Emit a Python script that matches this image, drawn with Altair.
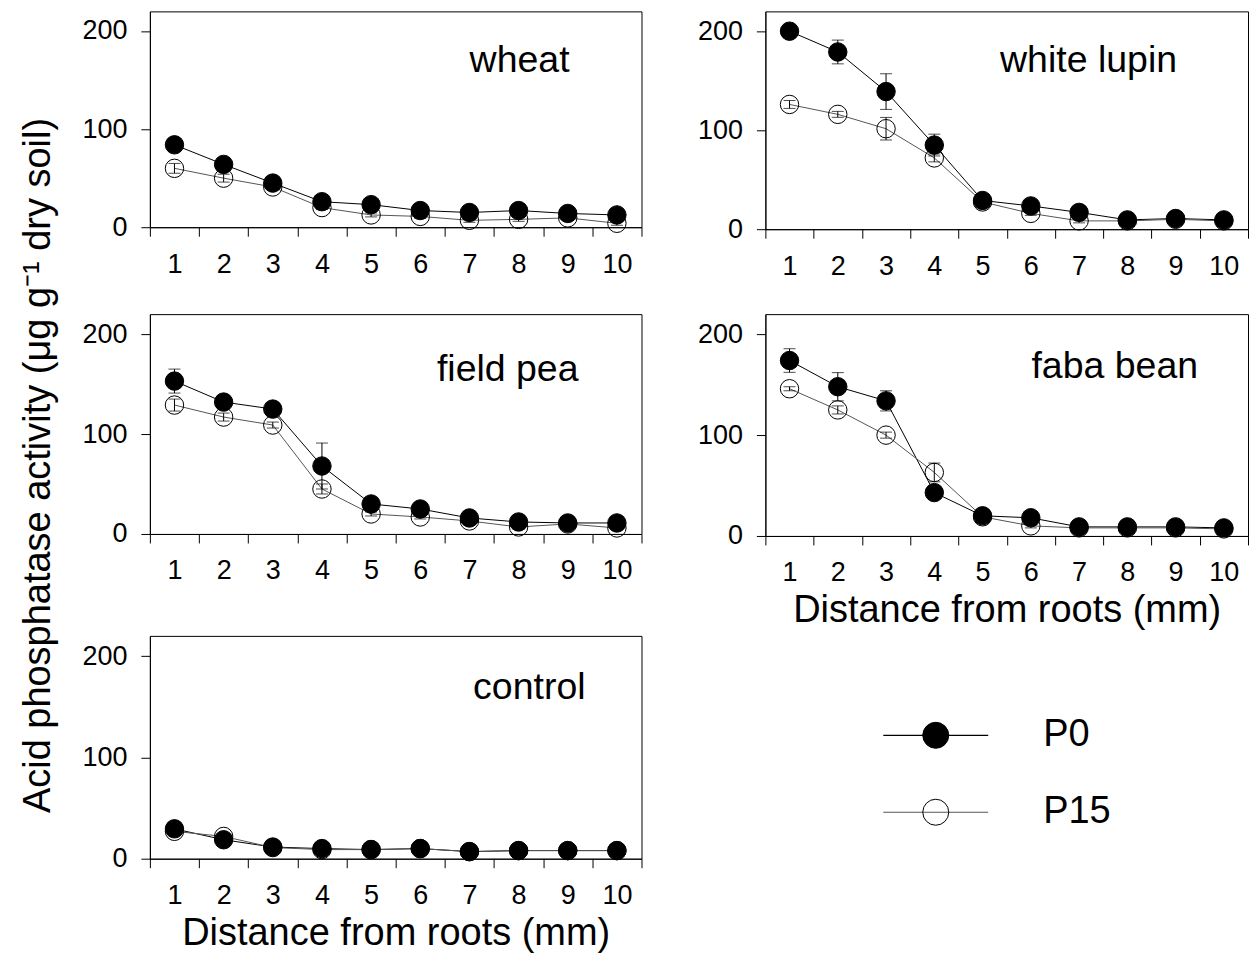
import altair as alt
import pandas as pd

FONT = "Liberation Sans"

distance = [1, 2, 3, 4, 5, 6, 7, 8, 9, 10]
series_names = ["P0", "P15"]

wheat_p0 = [84, 64, 45, 26, 23, 17, 15, 17, 14, 12.5]
wheat_p15 = [60, 50, 41, 20, 12.5, 11, 7, 8, 9.5, 4]
wheat_p0_err = [3, 3, 3, 2, 2, 2, 2, 2, 2, 2]
wheat_p15_err = [5, 4, 3, 2, 2, 2, 2, 2, 2, 2]

lupin_p0 = [200, 179, 139, 85, 29, 23.5, 17, 9.4, 10.8, 9.4]
lupin_p15 = [126, 116, 101.5, 72, 27.5, 16, 8.4, 8.4, 10, 8.4]
lupin_p0_err = [3, 12, 18, 11, 2, 2, 2, 2, 2, 2]
lupin_p15_err = [4, 3, 11.4, 4, 2, 2, 2, 2, 2, 2]

pea_p0 = [153, 132, 125, 68, 30, 25, 16, 12, 11, 11]
pea_p15 = [129, 117, 109, 45, 20, 17, 13, 7, 10, 6]
pea_p0_err = [12, 3, 3, 23, 3, 2, 2, 2, 2, 2]
pea_p15_err = [6, 4, 3, 5, 2, 2, 2, 2, 2, 2]

faba_p0 = [174, 148, 134, 43, 20, 18, 9, 9, 9, 8]
faba_p15 = [146, 125, 100, 63, 19, 10, 8, 8, 8, 7]
faba_p0_err = [11.7, 14, 10, 3, 2, 2, 2, 2, 2, 2]
faba_p15_err = [2, 4, 3, 9.3, 2, 2, 2, 2, 2, 2]

control_p0 = [29.5, 18.7, 11.5, 10, 9, 10, 7, 8, 8, 8]
control_p15 = [27, 22, 11, 9, 9, 10, 7, 8, 8, 8]
control_p0_err = [2, 2, 2, 2, 2, 2, 2, 2, 2, 2]
control_p15_err = [2, 2, 2, 2, 2, 2, 2, 2, 2, 2]

crop_data = {
    "wheat": (wheat_p0, wheat_p15, wheat_p0_err, wheat_p15_err),
    "white lupin": (lupin_p0, lupin_p15, lupin_p0_err, lupin_p15_err),
    "field pea": (pea_p0, pea_p15, pea_p0_err, pea_p15_err),
    "faba  bean": (faba_p0, faba_p15, faba_p0_err, faba_p15_err),
    "control": (control_p0, control_p15, control_p0_err, control_p15_err),
}

rows = []
for crop, (p0, p15, e0, e15) in crop_data.items():
    for s, vals, errs in (("P0", p0, e0), ("P15", p15, e15)):
        for d, v, e in zip(distance, vals, errs):
            rows.append({"crop": crop, "series": s, "dist": d, "value": v, "err": e})
df = pd.DataFrame(rows)

Y_TITLE = "Acid phosphatase activity (\u03bcg g\u207b\u00b9 dry soil)"
X_TITLE = "Distance from roots (mm)"

x_tick_values = [0.5, 1, 1.5, 2, 2.5, 3, 3.5, 4, 4.5, 5, 5.5,
                 6, 6.5, 7, 7.5, 8, 8.5, 9, 9.5, 10, 10.5]

fill_scale = alt.Scale(domain=series_names, range=["black", "transparent"])
stroke_scale = alt.Scale(domain=series_names, range=["#000000", "#555555"])


def x_axis(title):
    kw = dict(
        values=x_tick_values,
        labelExpr="datum.value % 1 == 0 ? format(datum.value, 'd') : ''",
        tickOpacity={"condition": {"test": "datum.value % 1 == 0", "value": 0}, "value": 1},
        labelOverlap=False, labelFlush=False, labelPadding=15,
    )
    if title:
        return alt.Axis(title=title, titlePadding=6, **kw)
    return alt.Axis(title=None, **kw)


def y_axis(title):
    kw = dict(values=[0, 100, 200], labelOverlap=False, labelPadding=14)
    if title:
        return alt.Axis(title=title, titleY=151, titlePadding=24, **kw)
    return alt.Axis(title=None, **kw)


def panel(crop, w, h, label_x, label_y, x_title=None, y_title=None):
    base = alt.Chart(df[df.crop == crop]).transform_calculate(
        lo="datum.value - datum.err", hi="datum.value + datum.err"
    )
    xs = alt.Scale(domain=[0.5, 10.5], nice=False, zero=False)
    ys = alt.Scale(domain=[0, 220], nice=False)

    def X():
        return alt.X("dist:Q", scale=xs, axis=x_axis(x_title))

    def Y(field):
        return alt.Y(field + ":Q", scale=ys, axis=y_axis(y_title))

    lines = base.mark_line(strokeWidth=1).encode(
        x=X(), y=Y("value"),
        stroke=alt.Stroke("series:N", legend=None, scale=stroke_scale),
    )
    rules = base.mark_rule(color="black", strokeWidth=1).encode(
        x=X(), y=Y("lo"), y2="hi:Q"
    )
    caps_hi = base.mark_tick(orient="horizontal", size=12, thickness=1, color="black").encode(
        x=X(), y=Y("hi")
    )
    caps_lo = base.mark_tick(orient="horizontal", size=12, thickness=1, color="black").encode(
        x=X(), y=Y("lo")
    )
    points = base.mark_point(shape="circle", size=340, filled=True, stroke="black",
                             strokeWidth=1, opacity=1).encode(
        x=X(), y=Y("value"),
        fill=alt.Fill("series:N", legend=None, scale=fill_scale),
    )
    label = alt.Chart(alt.Data(values=[{"label": crop}])).mark_text(
        align="right", baseline="alphabetic", font=FONT, fontSize=37.5, color="black"
    ).encode(text="label:N", x=alt.value(label_x), y=alt.value(label_y))
    return alt.layer(lines, rules, caps_hi, caps_lo, points, label).properties(
        width=w, height=h
    )


wheat = panel("wheat", 492, 216, 420, 61)
pea = panel("field pea", 492, 220, 429, 67, y_title=Y_TITLE)
control = panel("control", 492, 223, 436, 63, x_title=X_TITLE)
lupin = panel("white lupin", 483, 218, 412, 61)
faba = panel("faba  bean", 483, 222, 433, 64, x_title=X_TITLE)

# legend drawn as its own small panel (two entries on a point scale)
legend_df = pd.DataFrame({"series": series_names})
leg_y = alt.Y("series:N", scale=alt.Scale(type="point", domain=series_names, padding=0.5),
              axis=None)
leg_base = alt.Chart(legend_df)
leg_lines = leg_base.mark_rule(strokeWidth=1.2).encode(
    x=alt.value(118), x2=alt.value(223), y=leg_y,
    stroke=alt.Stroke("series:N", legend=None,
                      scale=alt.Scale(domain=series_names, range=["#000000", "#666666"])),
)
leg_points = leg_base.mark_point(shape="circle", size=676, filled=True, stroke="black",
                                 strokeWidth=1, opacity=1).encode(
    x=alt.value(170.5), y=leg_y,
    fill=alt.Fill("series:N", legend=None, scale=fill_scale),
)
leg_text = leg_base.mark_text(align="left", baseline="middle", font=FONT, fontSize=38,
                              color="black").encode(
    x=alt.value(278), y=leg_y, text="series:N"
)
legend_panel = alt.layer(leg_lines, leg_points, leg_text).properties(
    width=400, height=154, view=alt.ViewBackground(strokeOpacity=0)
)

left = alt.vconcat(wheat, alt.vconcat(pea, control, spacing=102, bounds="flush"),
                   spacing=87, bounds="flush")
right = alt.vconcat(lupin, alt.vconcat(faba, legend_panel, spacing=161, bounds="flush"),
                    spacing=85, bounds="flush")

chart = alt.hconcat(left, right, spacing=54).properties(
    padding={"left": 11, "top": 2, "right": 0, "bottom": 0}
).configure_view(
    stroke="black", strokeWidth=1
).configure_axis(
    grid=False, domainColor="black", domainWidth=1, tickColor="black", tickWidth=1,
    tickSize=9, labelColor="black", titleColor="black", labelFont=FONT, titleFont=FONT,
    labelFontSize=27, titleFontSize=38, titleFontWeight="normal",
)

chart.save("out.html", embed_options={"renderer": "svg", "actions": False})
